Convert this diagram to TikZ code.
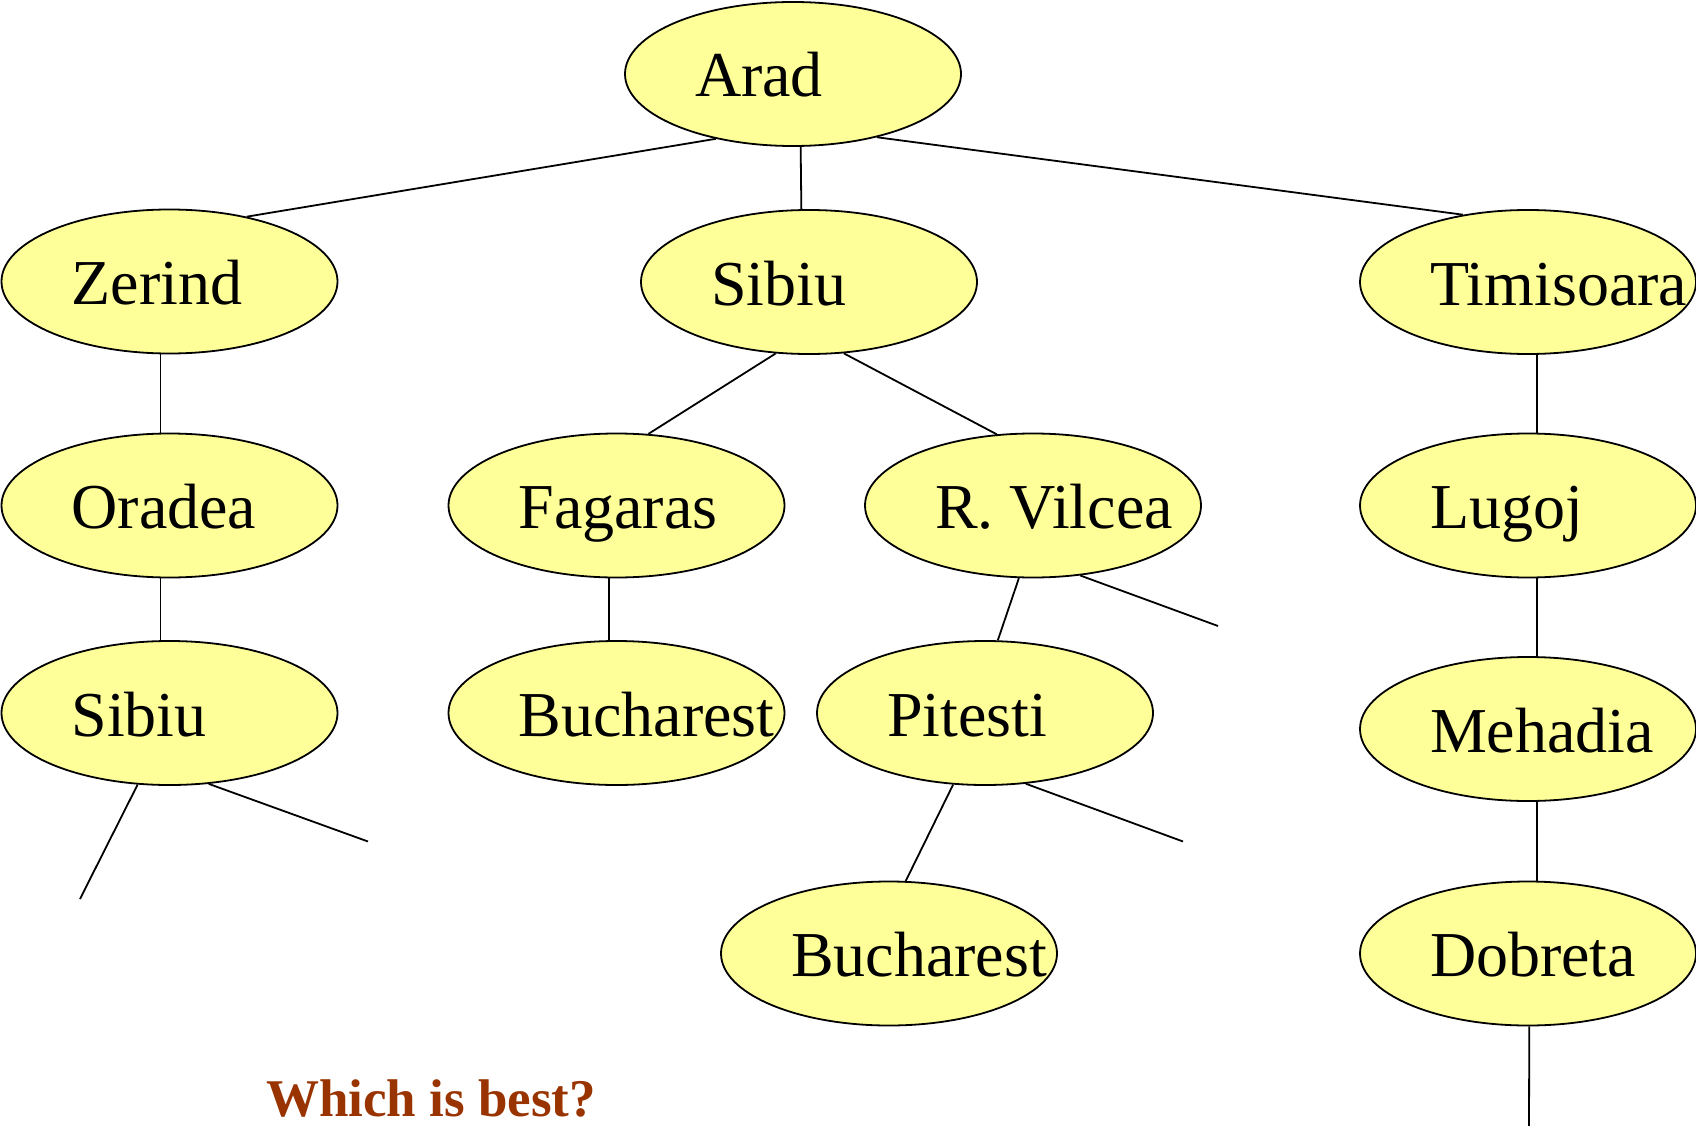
\documentclass[tikz,border=0pt]{standalone}
\usepackage{fontspec}
\setmainfont{Liberation Serif}
\usetikzlibrary{shapes.geometric}
\definecolor{cityfill}{HTML}{FFFF99}
\definecolor{qbrown}{HTML}{993300}
\newcommand\citylabel[1]{\makebox[196pt][l]{#1}}
\begin{document}
\begin{tikzpicture}[x=1pt,y=-1pt,
  city/.style={ellipse, draw, line width=1.8pt, fill=cityfill,
    minimum width=336pt, minimum height=144pt, inner sep=0pt,
    text height=46pt, text depth=0pt, font=\fontsize{64}{70}\selectfont},
  edge/.style={line width=1.8pt}]
\useasboundingbox (0,0) rectangle (1696,1126);

\node[city] (arad) at (793,74) {\citylabel{Arad}};
\node[city] (zerind) at (169.5,281.5) {\citylabel{Zerind}};
\node[city] (sibiu) at (809,282) {\citylabel{Sibiu}};
\node[city] (timisoara) at (1528,282) {\citylabel{Timisoara}};
\node[city] (oradea) at (169.5,505.5) {\citylabel{Oradea}};
\node[city] (fagaras) at (616.5,505.5) {\citylabel{Fagaras}};
\node[city] (rvilcea) at (1033,505.5) {\citylabel{R. Vilcea}};
\node[city] (lugoj) at (1528,505.5) {\citylabel{Lugoj}};
\node[city] (sibiuB) at (169.5,713) {\citylabel{Sibiu}};
\node[city] (buchA) at (616.5,713) {\citylabel{Bucharest}};
\node[city] (pitesti) at (985,713) {\citylabel{Pitesti}};
\node[city] (mehadia) at (1528,729) {\citylabel{Mehadia}};
\node[city] (buchB) at (889,953.5) {\citylabel{Bucharest}};
\node[city] (dobreta) at (1528,953.5) {\citylabel{Dobreta}};

\coordinate (f1) at (80,899);
\coordinate (f2) at (368,841.5);
\coordinate (f3) at (1218,626);
\coordinate (f4) at (1183,841.5);
\coordinate (f5) at (1529,1126);

\draw[edge] (arad.-140) -- (zerind.40);
\draw[edge] (arad.-84) -- (sibiu.96);
\draw[edge] (arad.-37) -- (timisoara.134);
\draw[edge] (zerind.-97) -- (oradea.97);
\draw[edge] (oradea.-97) -- (sibiuB.97);
\draw[edge] (sibiuB.-114) -- (f1);
\draw[edge] (sibiuB.-61) -- (f2);
\draw[edge] (sibiu.-115) -- (fagaras.66);
\draw[edge] (sibiu.-64) -- (rvilcea.117);
\draw[edge] (timisoara.-83) -- (lugoj.83);
\draw[edge] (fagaras.-96) -- (buchA.96);
\draw[edge] (rvilcea.-101) -- (pitesti.80);
\draw[edge] (rvilcea.-56) -- (f3);
\draw[edge] (pitesti.-114) -- (buchB.77);
\draw[edge] (pitesti.-60) -- (f4);
\draw[edge] (lugoj.-83) -- (mehadia.83);
\draw[edge] (mehadia.-83) -- (dobreta.83);
\draw[edge] (dobreta.-89) -- (f5);

\node[anchor=base west, inner sep=0pt, text=qbrown, text depth=0pt,
  font=\fontsize{53}{60}\selectfont\bfseries] (question) at (266,1116) {Which is best?};
\end{tikzpicture}
\end{document}
